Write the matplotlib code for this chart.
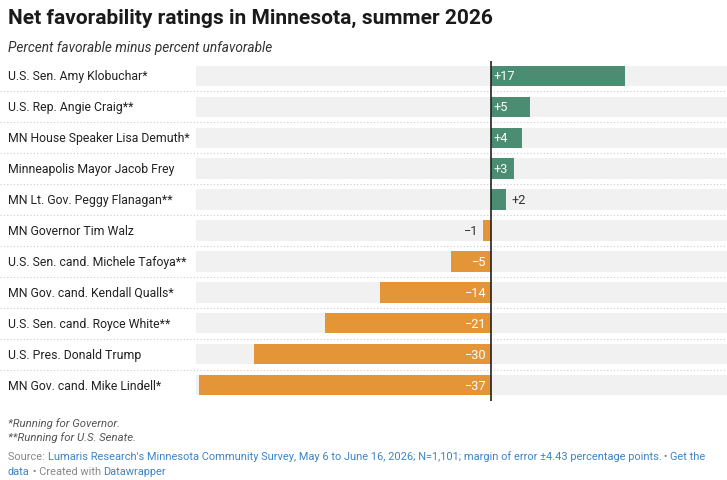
import matplotlib
matplotlib.use("Agg")
import matplotlib.pyplot as plt
from matplotlib.transforms import blended_transform_factory

plt.rcParams['font.family'] = ['Roboto', 'DejaVu Sans']

names = ["U.S. Sen. Amy Klobuchar*", "U.S. Rep. Angie Craig**", "MN House Speaker Lisa Demuth*",
         "Minneapolis Mayor Jacob Frey", "MN Lt. Gov. Peggy Flanagan**", "MN Governor Tim Walz",
         "U.S. Sen. cand. Michele Tafoya**", "MN Gov. cand. Kendall Qualls*", "U.S. Sen. cand. Royce White**",
         "U.S. Pres. Donald Trump", "MN Gov. cand. Mike Lindell*"]
values = [17, 5, 4, 3, 2, -1, -5, -14, -21, -30, -37]

GREEN = "#4a8d73"
ORANGE = "#e49537"
W, H = 727, 481
fig = plt.figure(figsize=(W/100, H/100), dpi=100)
ax = fig.add_axes([196/W, 1-401.5/H, 531/W, 340/H])
xmin, xmax = -37.4, 30.0
ax.set_xlim(xmin, xmax)
n = len(values)
ax.set_ylim(n-0.5, -0.5)
ax.axis('off')
ys = list(range(n))
ax.barh(ys, [xmax-xmin]*n, left=xmin, height=0.66, color="#f1f1f1", zorder=0)
ax.barh(ys, values, height=0.66, color=[GREEN if v > 0 else ORANGE for v in values], zorder=1)
ax.axvline(0, color="#222222", lw=1.2, zorder=3)
tr = blended_transform_factory(fig.transFigure, ax.transData)
for i in range(n-1):
    ax.plot([0, 1], [i+0.5, i+0.5], transform=tr,
            color="#cccccc", ls=(0, (1, 2)), lw=0.8, clip_on=False)
for y, name, v in zip(ys, names, values):
    ax.text(8/W, y, name, transform=tr, va='center', ha='left', fontsize=8.8, color="#222222")
    lab = f"+{v}" if v > 0 else f"\u2212{abs(v)}"
    inside = abs(v) >= 3
    if v > 0:
        if inside:
            ax.text(0.4, y, lab, va='center', ha='left', color='white', fontsize=9.2, zorder=4)
        else:
            ax.text(v+0.6, y, lab, va='center', ha='left', color='#333333', fontsize=9.2, zorder=4)
    else:
        if inside:
            ax.text(-0.5, y, lab, va='center', ha='right', color='white', fontsize=9.2, zorder=4)
        else:
            ax.text(v-0.6, y, lab, va='center', ha='right', color='#333333', fontsize=9.2, zorder=4)

fig.text(8/W, 1-18/H, "Net favorability ratings in Minnesota, summer 2026", fontsize=15,
         fontweight='bold', va='center', color="#1a1a1a")
fig.text(8/W, 1-48/H, "Percent favorable minus percent unfavorable", fontsize=9.8,
         style='italic', va='center', color="#333333")
fig.text(8/W, 1-424/H, "*Running for Governor.", fontsize=8.2, style='italic', va='center', color="#555555")
fig.text(8/W, 1-438/H, "**Running for U.S. Senate.", fontsize=8.2, style='italic', va='center', color="#555555")

GRAY = "#888888"; BLUE = "#3d85c6"

def chain_texts(parts, x, y):
    t = None
    for s, c in parts:
        if t is None:
            t = fig.text(x, y, s, color=c, fontsize=7.9, va='baseline')
        else:
            t = plt.annotate(s, xycoords=t, xy=(1, 0), va='bottom', color=c, fontsize=7.9,
                             annotation_clip=False)
    return t

chain_texts([("Source: ", GRAY),
             ("Lumaris Research's Minnesota Community Survey, May 6 to June 16, 2026; N=1,101; margin of error \u00b14.43 percentage points.", BLUE),
             (" \u2022 ", GRAY), ("Get the", BLUE)], 8/W, 1-460/H)
chain_texts([("data", BLUE), (" \u2022 Created with ", GRAY), ("Datawrapper", BLUE)], 8/W, 1-475/H)

fig.savefig("out.png", dpi=100)
